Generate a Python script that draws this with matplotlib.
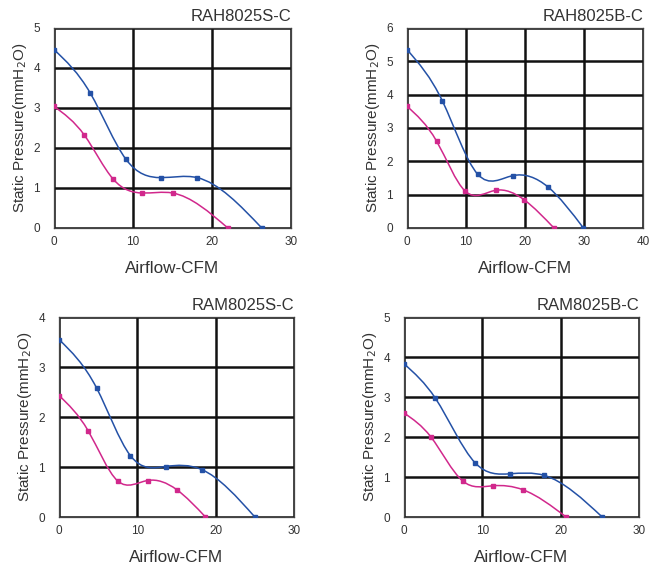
import numpy as np
import matplotlib
matplotlib.use("Agg")
import matplotlib.pyplot as plt
from matplotlib.path import Path
from matplotlib.patches import PathPatch

plt.rcParams['font.family'] = ['Liberation Sans', 'DejaVu Sans']

# chart data
titles = ["RAH8025S-C", "RAH8025B-C", "RAM8025S-C", "RAM8025B-C"]
xmax = [30, 40, 30, 30]
ymax = [5, 6, 4, 5]

blue_x = [
    [0, 4.6, 9.1, 13.5, 18.1, 26.3],
    [0, 6.0, 12.0, 17.9, 23.9, 29.9],
    [0, 4.8, 9.1, 13.6, 18.2, 25.0],
    [0, 4.0, 9.1, 13.5, 17.9, 25.3],
]
blue_y = [
    [4.46, 3.37, 1.72, 1.26, 1.26, 0],
    [5.35, 3.81, 1.61, 1.57, 1.23, 0],
    [3.55, 2.58, 1.23, 1.01, 0.95, 0],
    [3.83, 2.97, 1.35, 1.08, 1.04, 0],
]
pink_x = [
    [0, 3.85, 7.5, 11.2, 15.0, 22.0],
    [0, 5.0, 9.9, 15.0, 19.9, 24.9],
    [0, 3.7, 7.5, 11.3, 15.0, 18.7],
    [0, 3.4, 7.5, 11.3, 15.2, 20.7],
]
pink_y = [
    [3.04, 2.32, 1.22, 0.875, 0.875, 0],
    [3.65, 2.61, 1.10, 1.13, 0.84, 0],
    [2.43, 1.73, 0.72, 0.73, 0.55, 0],
    [2.60, 2.01, 0.90, 0.78, 0.68, 0],
]

BLUE = "#2451a6"
PINK = "#d1288c"
TXT = "#333333"


def spline_slopes(x, y):
    # natural cubic spline -> slope at each point
    x = np.asarray(x, float)
    y = np.asarray(y, float)
    n = len(x)
    h = np.diff(x)
    d = np.diff(y) / h
    A = np.zeros((n, n))
    rhs = np.zeros(n)
    A[0, 0] = A[-1, -1] = 1
    for i in range(1, n - 1):
        A[i, i - 1] = h[i - 1]
        A[i, i] = 2 * (h[i - 1] + h[i])
        A[i, i + 1] = h[i]
        rhs[i] = 6 * (d[i] - d[i - 1])
    M = np.linalg.solve(A, rhs)
    m = np.zeros(n)
    for i in range(n - 1):
        m[i] = d[i] - h[i] * (2 * M[i] + M[i + 1]) / 6
    m[-1] = d[-1] + h[-1] * (M[-2] + 2 * M[-1]) / 6
    return m


def smooth_curve(ax, xs, ys, color):
    # smoothed line drawn as bezier segments through the points
    m = spline_slopes(xs, ys)
    verts = [(xs[0], ys[0])]
    codes = [Path.MOVETO]
    for i in range(len(xs) - 1):
        h = xs[i + 1] - xs[i]
        verts += [(xs[i] + h / 3, ys[i] + m[i] * h / 3),
                  (xs[i + 1] - h / 3, ys[i + 1] - m[i + 1] * h / 3),
                  (xs[i + 1], ys[i + 1])]
        codes += [Path.CURVE4] * 3
    ax.add_patch(PathPatch(Path(verts, codes), fill=False, ec=color, lw=1.1,
                           zorder=3))
    ax.plot(xs, ys, ls="none", marker="s", ms=2.4, color=color, zorder=4)


fig = plt.figure(figsize=(6.54, 5.66), dpi=100)
W, H = 654, 566
# axes boxes in pixels: left, top, right, bottom
boxes = [(54, 28, 291, 228), (407, 28, 643, 228),
         (59, 317, 294, 517), (404, 317, 639, 517)]

for k, (l, t, r, b) in enumerate(boxes):
    ax = fig.add_axes([l / W, 1 - b / H, (r - l) / W, (b - t) / H])
    ax.set_xlim(0, xmax[k])
    ax.set_ylim(0, ymax[k])
    ax.set_xticks(np.arange(0, xmax[k] + 1, 10))
    ax.set_yticks(np.arange(0, ymax[k] + 1, 1))
    ax.grid(True, color="#111111", lw=1.8, zorder=1)
    for s in ax.spines.values():
        s.set_linewidth(0.9)
        s.set_color("#444444")
    ax.tick_params(length=0, labelsize=8.5, labelcolor=TXT)
    ax.tick_params(axis="y", pad=10)
    ax.tick_params(axis="x", pad=6)
    smooth_curve(ax, blue_x[k], blue_y[k], BLUE)
    smooth_curve(ax, pink_x[k], pink_y[k], PINK)
    ax.set_title(titles[k], loc="right", fontsize=12, color=TXT, pad=5)
    ax.set_xlabel("Airflow-CFM", fontsize=12.3, color=TXT, labelpad=9)
    ax.set_ylabel("Static Pressure(mmH$_2$O)", fontsize=11, color=TXT,
                  labelpad=3)

fig.savefig("out.png", dpi=100)
